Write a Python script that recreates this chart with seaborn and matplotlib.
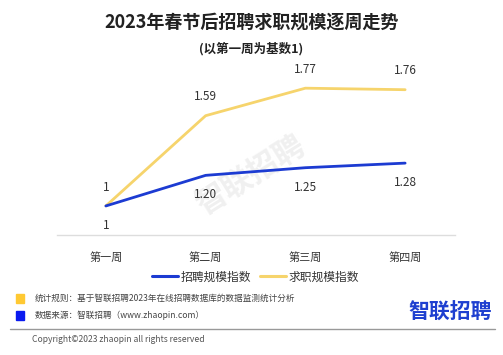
import pandas as pd
import matplotlib.pyplot as plt
import seaborn as sns
from matplotlib.patches import Rectangle
from matplotlib.lines import Line2D

weeks = ['第一周', '第二周', '第三周', '第四周']
recruit = [1.00, 1.20, 1.25, 1.28]
jobseek = [1.00, 1.59, 1.77, 1.76]
recruit_labels = ['1', '1.20', '1.25', '1.28']
jobseek_labels = ['1', '1.59', '1.77', '1.76']
series_names = ['招聘规模指数', '求职规模指数']

palette = {
    '招聘规模指数': '#1c3bd2',
    '求职规模指数': '#f6d46c',
}

sns.set_style('white')
plt.rcParams['font.family'] = ['Noto Sans CJK SC', 'DejaVu Sans']

df = pd.DataFrame({
    'week': list(range(len(weeks))) * 2,
    'value': recruit + jobseek,
    'series': [series_names[0]] * len(weeks) + [series_names[1]] * len(weeks),
})

fig = plt.figure(figsize=(5.03, 3.55), dpi=100)
ax = fig.add_axes([57/503, 1 - 235/355, 398/503, 182/355])

# watermark
ax.text(1.45, 1.20, '智联招聘', fontsize=22, color='#f0f0f0', rotation=32,
        ha='center', va='center', fontweight='bold', zorder=0)

sns.lineplot(data=df, x='week', y='value', hue='series', palette=palette,
             hue_order=[series_names[1], series_names[0]],
             linewidth=2.0, ax=ax, legend=False, zorder=3)

for i, (v, lab) in enumerate(zip(jobseek, jobseek_labels)):
    ax.annotate(lab, (i, v), xytext=(0, 13.5), textcoords='offset points',
                ha='center', va='center', fontsize=8.5, color='#333333')
for i, (v, lab) in enumerate(zip(recruit, recruit_labels)):
    ax.annotate(lab, (i, v), xytext=(0, -14), textcoords='offset points',
                ha='center', va='center', fontsize=8.5, color='#333333')

ax.set_xlim(-0.49, 3.5)
ax.set_ylim(0.81, 2.0)
ax.set_xticks(range(len(weeks)))
ax.set_xticklabels(weeks, fontsize=8, color='#333333')
ax.set_yticks([])
ax.set_xlabel('')
ax.set_ylabel('')
ax.tick_params(axis='x', length=0, pad=12)
for s in ['top', 'right', 'left']:
    ax.spines[s].set_visible(False)
ax.spines['bottom'].set_color('#dddddd')
ax.spines['bottom'].set_linewidth(1)

handles = [Line2D([0], [0], color=palette[n], lw=2.2) for n in series_names]
fig.legend(handles, series_names, loc='center', bbox_to_anchor=(0.508, 1 - 277/355),
           ncol=2, frameon=False, fontsize=8.5, handlelength=2.2,
           handletextpad=0.2, columnspacing=0.8, labelcolor='#333333')

fig.text(0.5, 1 - 22/355, '2023年春节后招聘求职规模逐周走势', ha='center', va='center',
         fontsize=13, fontweight='bold', color='#222222')
fig.text(0.5, 1 - 49/355, '(以第一周为基数1)', ha='center', va='center',
         fontsize=9, fontweight='bold', color='#222222')

# footer
fig.patches.append(Rectangle((16/503, 1 - 303/355), 8/503, 9/355, color='#ffc933',
                             transform=fig.transFigure, figure=fig))
fig.patches.append(Rectangle((16/503, 1 - 320/355), 8/503, 9/355, color='#0a1af0',
                             transform=fig.transFigure, figure=fig))
fig.text(35/503, 1 - 298/355, '统计规则：基于智联招聘2023年在线招聘数据库的数据监测统计分析',
         ha='left', va='center', fontsize=6.2, color='#444444')
fig.text(35/503, 1 - 315/355, '数据来源：智联招聘（www.zhaopin.com）',
         ha='left', va='center', fontsize=6.2, color='#444444')
fig.text(492/503, 1 - 312/355, '智联招聘', ha='right', va='center',
         fontsize=15, fontweight='bold', color='#1e3fd0')
fig.add_artist(Line2D([10/503, 495/503], [1 - 329/355, 1 - 329/355],
                      color='#999999', lw=1, transform=fig.transFigure))
fig.text(32/503, 1 - 340/355, 'Copyright©2023 zhaopin all rights reserved',
         ha='left', va='center', fontsize=6.2, color='#555555')

fig.savefig('out.png', dpi=100)
